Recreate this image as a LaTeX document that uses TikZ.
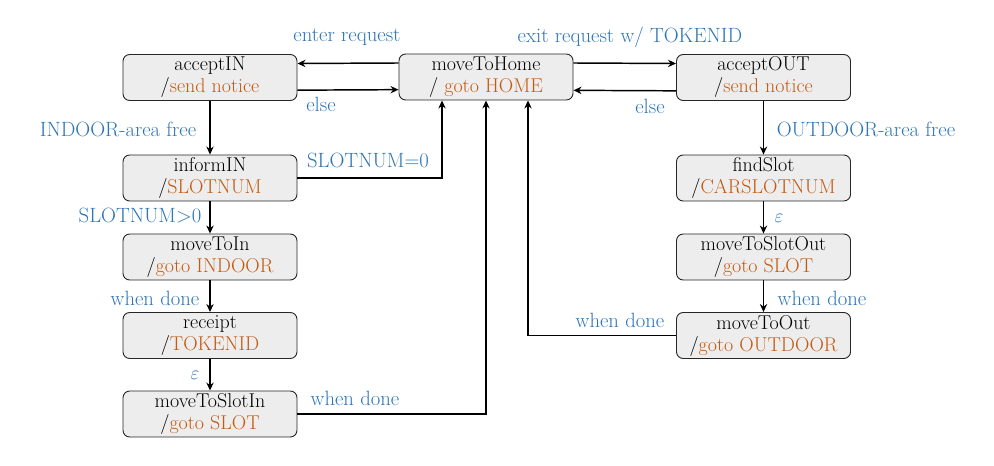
\documentclass[tikz,border=0pt]{standalone}
\usetikzlibrary{arrows.meta,positioning}
\definecolor{lblblue}{RGB}{46,117,182}
\definecolor{actorange}{RGB}{197,90,17}
\definecolor{boxgray}{RGB}{237,237,237}
\begin{document}
\begin{tikzpicture}[x=0.75pt,y=-0.75pt,
  state/.style={draw=black!85, line width=0.7pt, fill=boxgray, rounded corners=5pt,
    minimum width=130.5pt, minimum height=34.5pt, align=center, inner sep=1pt,
    font=\fontsize{15}{16.5}\selectfont},
  arr/.style={draw, line width=1.1pt, -{Stealth[length=6pt,width=5.5pt]}},
  lbl/.style={text=lblblue, font=\fontsize{15.5}{17}\selectfont, inner sep=1pt}]
\useasboundingbox (0,0) rectangle (994,466);
\newcommand{\act}[1]{\textcolor{actorange}{#1}}
% states
\node[state] (ain) at (210,77.5) {acceptIN\\/\act{send notice}};
\node[state] (mth) at (486,77) {moveToHome\\/ \act{goto HOME}};
\node[state] (aout) at (763.5,77.5) {acceptOUT\\/\act{send notice}};
\node[state] (iin) at (210,178) {informIN\\/\act{SLOTNUM}};
\node[state] (fs) at (763.5,178) {findSlot\\/\act{CARSLOTNUM}};
\node[state] (mti) at (210,257) {moveToIn\\/\act{goto INDOOR}};
\node[state] (mso) at (763.5,257) {moveToSlotOut\\/\act{goto SLOT}};
\node[state] (rc) at (210,335.5) {receipt\\/\act{TOKENID}};
\node[state] (mto) at (763.5,335.5) {moveToOut\\/\act{goto OUTDOOR}};
\node[state] (msi) at (210,414) {moveToSlotIn\\/\act{goto SLOT}};
% connectors
\draw[arr] ([yshift=10.5pt]mth.west) -- ([yshift=10.5pt]ain.east);
\draw[arr] ([yshift=-9.5pt]ain.east) -- ([yshift=-9.5pt]mth.west);
\draw[arr] ([yshift=10.5pt]mth.east) -- ([yshift=10.5pt]aout.west);
\draw[arr] ([yshift=-10pt]aout.west) -- ([yshift=-10pt]mth.east);
\draw[arr] (ain) -- (iin);
\draw[arr] (iin) -- (mti);
\draw[arr] (mti) -- (rc);
\draw[arr] (rc) -- (msi);
\draw[arr] (aout) -- (fs);
\draw[arr] (fs) -- (mso);
\draw[arr] (mso) -- (mto);
\draw[arr] (iin.east) -| ([xshift=-33pt]mth.south);
\draw[arr] (msi.east) -| (mth.south);
\draw[arr] (mto.west) -| ([xshift=31.5pt]mth.south);
% labels
\node[lbl] (l1) at (347,37) {enter request};
\node[lbl] (l2) at (321,104) {else};
\node[lbl] (l3) at (630,37) {exit request w/ TOKENID};
\node[lbl] (l4) at (650,106) {else};
\node[lbl] (l5) at (118,129) {INDOOR-area free};
\node[lbl] (l6) at (368,160) {SLOTNUM=0};
\node[lbl] (l7) at (140,216) {SLOTNUM>0};
\node[lbl] (l8) at (155,298) {when done};
\node[lbl] (l9) at (195,375) {$\varepsilon$};
\node[lbl] (l10) at (355,398) {when done};
\node[lbl] (l11) at (866,129) {OUTDOOR-area free};
\node[lbl] (l12) at (779,218) {$\varepsilon$};
\node[lbl] (l13) at (822,298) {when done};
\node[lbl] (l14) at (620,320) {when done};
\end{tikzpicture}
\end{document}
